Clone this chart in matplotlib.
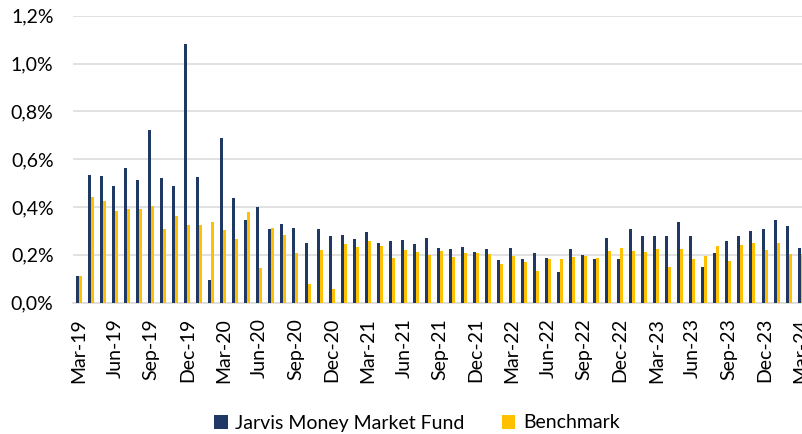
import matplotlib
matplotlib.use("Agg")
import matplotlib.pyplot as plt
import numpy as np
import pandas as pd

plt.rcParams['font.family'] = ['Lato', 'DejaVu Sans']

months = pd.date_range("2019-03-01", "2024-03-01", freq="MS")
labels = [d.strftime("%b-%y") for d in months]

fund = [0.112, 0.534, 0.530, 0.490, 0.564, 0.512, 0.723, 0.523, 0.487, 1.082,
        0.527, 0.095, 0.689, 0.438, 0.346, 0.399, 0.308, 0.329, 0.313, 0.248,
        0.307, 0.279, 0.283, 0.266, 0.297, 0.250, 0.258, 0.261, 0.246, 0.271,
        0.230, 0.225, 0.234, 0.212, 0.226, 0.179, 0.229, 0.183, 0.208, 0.187,
        0.130, 0.226, 0.200, 0.184, 0.269, 0.182, 0.308, 0.279, 0.279, 0.279,
        0.336, 0.279, 0.149, 0.208, 0.257, 0.279, 0.300, 0.308, 0.346, 0.322,
        0.229]
bench = [0.110, 0.442, 0.426, 0.384, 0.392, 0.392, 0.405, 0.308, 0.363, 0.325,
         0.325, 0.336, 0.304, 0.267, 0.380, 0.146, 0.311, 0.285, 0.208, 0.080,
         0.220, 0.057, 0.245, 0.232, 0.259, 0.236, 0.188, 0.220, 0.213, 0.200,
         0.215, 0.193, 0.207, 0.207, 0.203, 0.162, 0.197, 0.169, 0.131, 0.184,
         0.184, 0.193, 0.197, 0.188, 0.218, 0.228, 0.218, 0.212, 0.226, 0.149,
         0.226, 0.184, 0.195, 0.237, 0.174, 0.243, 0.250, 0.222, 0.250, 0.205,
         0.205]

series_names = ["Jarvis Money Market Fund", "Benchmark"]
navy = "#203864"
gold = "#FFC000"
grid_c = "#D9D9D9"

fig = plt.figure(figsize=(8.03, 4.34), dpi=100)
ax = fig.add_axes([73/803, 1-302.7/434, 1-73/803, (302.7-15.7)/434])

x = np.arange(len(labels))
w = 0.25
ax.bar(x - w/2, fund, width=w, color=navy, label=series_names[0], zorder=3)
ax.bar(x + w/2, bench, width=w, color=gold, label=series_names[1], zorder=3)

ax.set_ylim(0, 1.2)
ax.set_xlim(-0.5, 60.2)
yt = np.arange(0, 1.21, 0.2)
ax.set_yticks(yt)
ax.set_yticklabels([f"{v:.1f}%".replace(".", ",") for v in yt])
ax.set_xticks(x[::3])
ax.set_xticklabels(labels[::3], rotation=90)
ax.tick_params(axis='both', length=0, labelsize=14, colors='black')
ax.tick_params(axis='y', pad=14)
ax.tick_params(axis='x', pad=11)
ax.yaxis.grid(True, color=grid_c, lw=1.1, zorder=0)
ax.set_axisbelow(True)
for s in ['top', 'right', 'left']:
    ax.spines[s].set_visible(False)
ax.spines['bottom'].set_color(grid_c)
ax.spines['bottom'].set_linewidth(1.1)

fig.legend(loc='center', bbox_to_anchor=(417/803, 1-423/434), ncol=2,
           frameon=False, fontsize=14, handlelength=0.7, handleheight=0.7,
           handletextpad=0.4, columnspacing=1.9)

fig.savefig("out.png", dpi=100)
